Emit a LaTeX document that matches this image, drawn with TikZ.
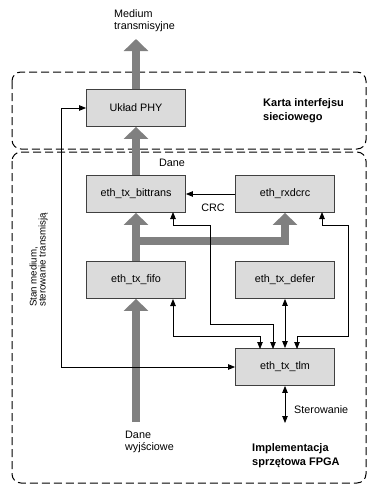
\documentclass[tikz,border=0pt]{standalone}
\usepackage{fontspec}
\setmainfont{Liberation Sans}
\newfontfamily\pionowa{Liberation Sans}
\usetikzlibrary{arrows.meta}
\tikzset{
  blok/.style={draw=black!75, line width=0.8pt, fill=black!14, minimum width=99pt,
    minimum height=37pt, inner sep=0pt},
  dane/.style={draw=gray, line width=8pt, -{Triangle[width=24pt,length=12pt]}},
  grot/.tip={Triangle[width=5.5pt,length=7pt]},
  linia/.style={line width=0.8pt, grot-grot},
  strz/.style={line width=0.8pt, -grot},
  obszar/.style={draw=black, line width=1pt, dash pattern=on 8pt off 4pt,
    rounded corners=9pt},
  opis/.style={inner sep=0pt, align=left, anchor=west},
}
\begin{document}
\begin{tikzpicture}[x=1pt,y=-1pt,font=\fontsize{10.8}{12}\selectfont]
  \useasboundingbox (0,0) rectangle (368,485);
  % obszary
  \draw[obszar] (12,72) rectangle (366,149);
  \draw[obszar] (12,152) rectangle (366,483);
  % bloki
  \node[blok] (phy) at (136,108) {Układ PHY};
  \node[blok] (bit) at (136,194) {eth\_tx\_bittrans};
  \node[blok] (crc) at (285,194) {eth\_rxdcrc};
  \node[blok] (fifo) at (136,280) {eth\_tx\_fifo};
  \node[blok] (defer) at (285,280) {eth\_tx\_defer};
  \node[blok] (tlm) at (285,367) {eth\_tx\_tlm};
  \coordinate (medium) at (136,39);
  \coordinate (wejscie) at (136,422);
  \coordinate (ster) at (285,423);
  % przeplyw danych
  \draw[dane] (wejscie) -- (fifo.south);
  \draw[dane] (fifo.north) -- (bit.south);
  \draw[dane] (136,241) -- (285,241) -- (crc.south);
  \draw[dane] (bit.north) -- (phy.south);
  \draw[dane] (phy.north) -- (medium);
  % sterowanie
  \draw[strz] (crc.west) -- (bit.east);
  \draw[linia] (phy.west) -- (61,108) -- (61,367) -- (tlm.west);
  \draw[linia] (173,299) -- (173,336) -- (260,336) -- (260,349);
  \draw[linia] (273,349) -- (273,324) -- (210,324) -- (210,225) -- (173,225) -- (173,212);
  \draw[linia] (defer.south) -- (tlm.north);
  \draw[linia] (297,349) -- (297,336) -- (348,336) -- (348,225) -- (322,225) -- (322,212);
  \draw[linia] (tlm.south) -- (ster);
  % opisy
  \node[opis] (t1) at (114,20.5) {Medium\\transmisyjne};
  \node (t2) at (172,163) {Dane};
  \node (t3) at (213,207.5) {CRC};
  \node[opis,font=\fontsize{11}{14}\selectfont\bfseries] (t4) at (263,110.5) {Karta interfejsu\\sieciowego};
  \node[opis,rotate=90,font=\pionowa\fontsize{9.7}{9}\selectfont] (t5) at (38.5,307) {Stan medium,\\sterowanie transmisją};
  \node[opis] (t6) at (125,442) {Dane\\wyjściowe};
  \node[opis] (t7) at (294,410) {Sterowanie};
  \node[opis,font=\fontsize{11}{14}\selectfont\bfseries] (t8) at (252,455.5) {Implementacja\\sprzętowa FPGA};
\end{tikzpicture}
\end{document}
